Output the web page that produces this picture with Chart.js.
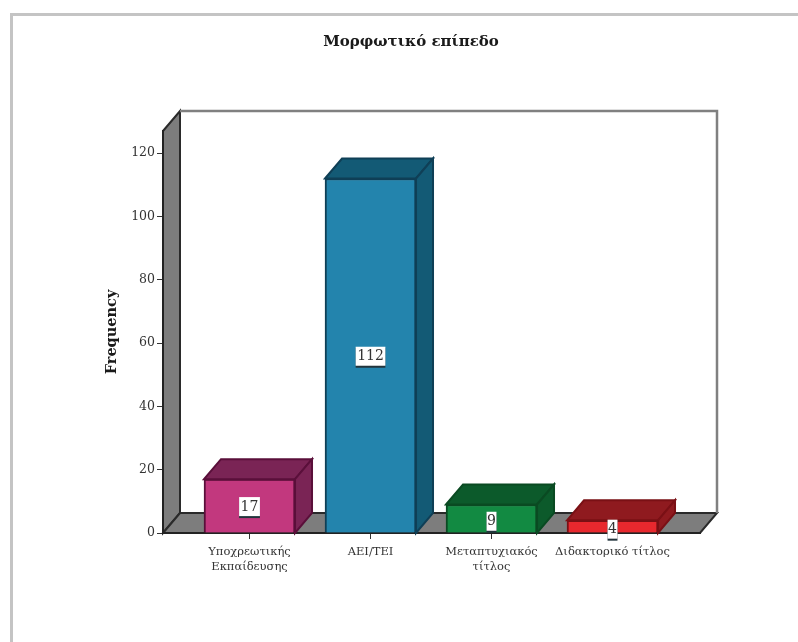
<!DOCTYPE html>
<html>
<head>
<meta charset="utf-8">
<style>
body { margin: 0; background: #fff; }
#wrap { width: 798px; height: 642px; }
canvas { filter: blur(0.7px); }
</style>
<script src="https://cdn.jsdelivr.net/npm/chart.js@4"></script>
</head>
<body>
<div id="wrap"><canvas id="eduChart" width="798" height="642"></canvas></div>
<script>
const categories = [
    ['Υποχρεωτικής', 'Εκπαίδευσης'],
    ['ΑΕΙ/ΤΕΙ'],
    ['Μεταπτυχιακός', 'τίτλος'],
    ['Διδακτορικό τίτλος']
];
const frequencies = [17, 112, 9, 4];
const frontColors = ['#c2387e', '#2384ad', '#128a42', '#e8282e'];
const shadeColors = ['#7a2455', '#135a75', '#0c5a2b', '#8f1a1f'];
const edgeColors = ['#5a0f3a', '#0f3f56', '#0a4a22', '#7a1015'];

const depthX = 17;
const depthY = -20;

function poly(ctx, pts, fill, stroke, lw) {
    ctx.beginPath();
    pts.forEach((p, i) => i ? ctx.lineTo(p[0], p[1]) : ctx.moveTo(p[0], p[1]));
    ctx.closePath();
    if (fill) { ctx.fillStyle = fill; ctx.fill(); }
    if (stroke) { ctx.strokeStyle = stroke; ctx.lineWidth = lw || 1; ctx.stroke(); }
}

// page frame, side wall, floor and back wall
const wallsPlugin = {
    id: 'walls',
    beforeDraw(chart) {
        const ctx = chart.ctx;
        const a = chart.chartArea;
        ctx.save();
        ctx.fillStyle = '#c4c4c4';
        ctx.fillRect(10, 13, 788, 3);
        ctx.fillRect(10, 13, 3, 629);
        poly(ctx, [[a.left, a.top], [a.left + depthX, a.top + depthY],
            [a.left + depthX, a.bottom + depthY], [a.left, a.bottom]], '#7d7d7d', '#2a2a2a', 2);
        poly(ctx, [[a.left, a.bottom], [a.left + depthX, a.bottom + depthY],
            [a.right + depthX, a.bottom + depthY], [a.right, a.bottom]], '#7d7d7d', '#2a2a2a', 2);
        ctx.strokeStyle = '#808080';
        ctx.lineWidth = 2.5;
        ctx.beginPath();
        ctx.moveTo(a.left + depthX, a.top + depthY);
        ctx.lineTo(a.right + depthX, a.top + depthY);
        ctx.lineTo(a.right + depthX, a.bottom + depthY);
        ctx.stroke();
        ctx.restore();
    },
    // top and side faces of the bars, then the value boxes
    afterDatasetsDraw(chart) {
        const ctx = chart.ctx;
        const bars = chart.getDatasetMeta(0).data;
        ctx.save();
        bars.forEach((bar, i) => {
            const l = bar.x - bar.width / 2;
            const r = bar.x + bar.width / 2;
            const t = bar.y;
            const b = chart.chartArea.bottom;
            poly(ctx, [[l, t], [l + depthX, t + depthY], [r + depthX, t + depthY], [r, t]],
                shadeColors[i], edgeColors[i], 2);
            poly(ctx, [[r, t], [r + depthX, t + depthY], [r + depthX, b + depthY], [r, b]],
                shadeColors[i], edgeColors[i], 2);
        });
        ctx.font = '14px "DejaVu Serif"';
        ctx.textAlign = 'center';
        ctx.textBaseline = 'middle';
        bars.forEach((bar, i) => {
            const text = String(frequencies[i]);
            const w = ctx.measureText(text).width + (text.length > 1 ? 3 : 1);
            const cy = (bar.y + chart.chartArea.bottom) / 2 + (frequencies[i] < 10 ? 3 : 1);
            ctx.fillStyle = '#22343c';
            ctx.fillRect(bar.x - w / 2, cy - 9, w, 20);
            ctx.fillStyle = '#fff';
            ctx.fillRect(bar.x - w / 2, cy - 10, w, 19);
            ctx.fillStyle = '#333';
            ctx.fillText(text, bar.x, cy);
        });
        ctx.restore();
    }
};

new Chart(document.getElementById('eduChart').getContext('2d'), {
    type: 'bar',
    data: {
        datasets: [{
            data: frequencies.map((v, i) => ({ x: i, y: v })),
            backgroundColor: frontColors,
            borderColor: edgeColors,
            borderWidth: 2,
            barThickness: 91
        }]
    },
    plugins: [wallsPlugin],
    options: {
        responsive: false,
        animation: false,
        layout: { padding: { left: 122, right: 98, top: 0, bottom: 0 } },
        plugins: {
            legend: { display: false },
            tooltip: { enabled: false },
            title: {
                display: true,
                text: 'Μορφωτικό επίπεδο',
                color: '#1a1a1a',
                font: { family: '"DejaVu Serif"', size: 15, weight: 'bold' },
                padding: { top: 33, bottom: 80 }
            }
        },
        scales: {
            x: {
                type: 'linear',
                offset: false,
                min: -0.715,
                max: 3.723,
                afterBuildTicks(scale) {
                    scale.ticks = categories.map((c, i) => ({ value: i }));
                },
                afterFit(scale) { scale.height = 109; },
                border: { color: '#222', width: 2 },
                grid: { offset: false, drawOnChartArea: false, color: '#333', tickLength: 6 },
                ticks: {
                    autoSkip: false,
                    maxRotation: 0,
                    color: '#333',
                    padding: 6,
                    font: { family: '"DejaVu Serif"', size: 11.5, lineHeight: 1.25 },
                    callback: v => categories[v]
                }
            },
            y: {
                min: 0,
                max: 127,
                afterFit(scale) { scale.width = 41; },
                border: { color: '#222', width: 2 },
                grid: { drawOnChartArea: false, color: '#333', tickLength: 6 },
                title: {
                    display: true,
                    text: 'Frequency',
                    color: '#1a1a1a',
                    font: { family: '"DejaVu Serif"', size: 14.5, weight: 'bold' },
                    padding: { top: -18, bottom: 0 }
                },
                ticks: {
                    stepSize: 20,
                    includeBounds: false,
                    color: '#333',
                    padding: 2,
                    font: { family: '"DejaVu Serif"', size: 12.5 }
                }
            }
        }
    }
});
</script>
</body>
</html>
